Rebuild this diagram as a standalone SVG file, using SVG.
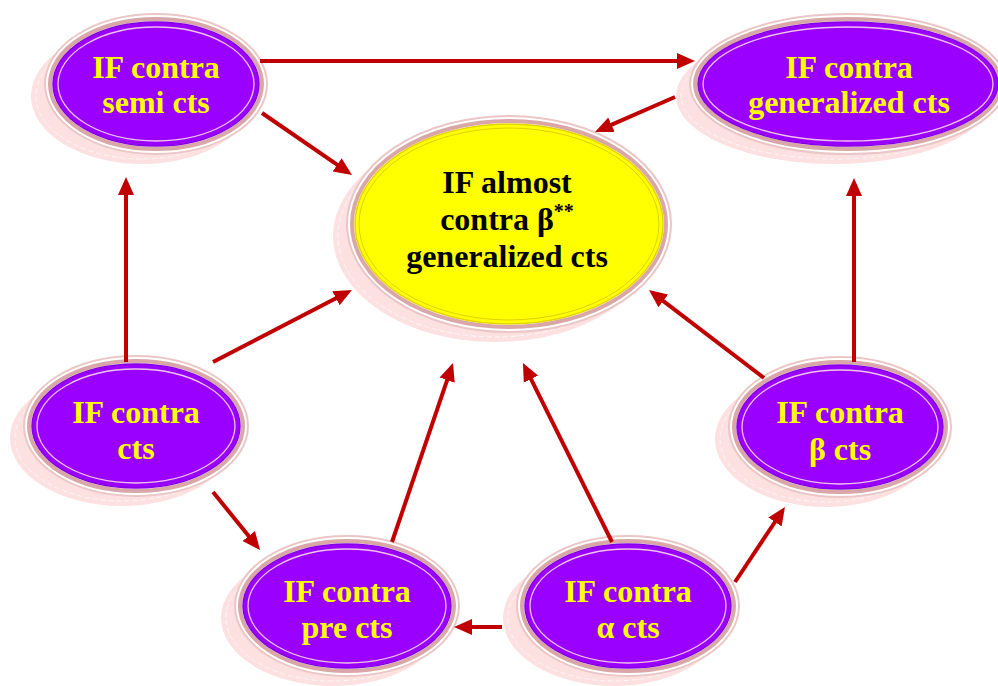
<svg xmlns="http://www.w3.org/2000/svg" width="998" height="686" viewBox="0 0 998 686">
<style>
.shadow{fill:#FDE1E1;stroke:none}
.dash{fill:none;stroke:#FFFFFF;stroke-width:0.8;stroke-dasharray:5 3;opacity:0.8}
.ring1{fill:#FFFFFF;stroke:#EBC6C6;stroke-width:2}
.ring2{fill:none;stroke:#D9A7A7;stroke-width:4}
.body{fill:#9A00FF;stroke:#8500E0;stroke-width:1.5}
.inner{fill:none;stroke:#F0C2EE;stroke-width:1.3}
.cbody{fill:#FFFF00;stroke:#E5D400;stroke-width:1.5}
.cinner{fill:none;stroke:#E0D000;stroke-width:1}
.t{font-family:"Liberation Serif","Times New Roman",serif;font-weight:bold;font-size:32px;text-anchor:middle;fill:#FFFF00}
.tc{fill:#000000}
.conn line{stroke:#C00000;stroke-width:4;marker-end:url(#ah)}
</style>
<defs>
<marker id="ah" markerUnits="userSpaceOnUse" markerWidth="18" markerHeight="18" viewBox="0 0 18 18" refX="6" refY="9" orient="auto">
<path d="M0,1 L18,9 L0,17 z" fill="#C00000"/>
</marker>
</defs>
<rect width="998" height="686" fill="#FFFFFF"/>

<g id="semi">
<ellipse class="shadow" cx="142" cy="96" rx="111" ry="68"/>
<ellipse class="dash" cx="142" cy="96" rx="106" ry="63"/>
<ellipse class="ring1" cx="156" cy="84" rx="111" ry="70"/>
<ellipse class="ring2" cx="156" cy="84" rx="106" ry="65"/>
<ellipse class="body" cx="156" cy="84" rx="103" ry="62"/>
<ellipse class="inner" cx="156" cy="84" rx="98" ry="57"/>
<text class="t" x="156" y="78">IF contra</text>
<text class="t" x="156" y="113">semi cts</text>
</g>

<g id="generalized">
<ellipse class="shadow" cx="834" cy="96" rx="158" ry="68"/>
<ellipse class="dash" cx="834" cy="96" rx="153" ry="63"/>
<ellipse class="ring1" cx="848" cy="84" rx="158" ry="70"/>
<ellipse class="ring2" cx="848" cy="84" rx="153" ry="65"/>
<ellipse class="body" cx="848" cy="84" rx="150" ry="62"/>
<ellipse class="inner" cx="848" cy="84" rx="145" ry="57"/>
<text class="t" x="849" y="78">IF contra</text>
<text class="t" x="849" y="113">generalized cts</text>
</g>

<g id="center">
<ellipse class="shadow" cx="495" cy="236" rx="162" ry="106"/>
<ellipse class="dash" cx="495" cy="236" rx="157" ry="101"/>
<ellipse class="ring1" cx="509" cy="224" rx="162" ry="108"/>
<ellipse class="ring2" cx="509" cy="224" rx="157" ry="103"/>
<ellipse class="cbody" cx="509" cy="224" rx="154" ry="100"/>
<ellipse class="cinner" cx="509" cy="224" rx="150" ry="96"/>
<text class="t tc" x="507" y="193">IF almost</text>
<text class="t tc" x="507" y="230">contra β<tspan font-size="20" dy="-12">**</tspan></text>
<text class="t tc" x="507" y="267">generalized cts</text>
</g>

<g id="cts">
<ellipse class="shadow" cx="122" cy="438" rx="112" ry="68"/>
<ellipse class="dash" cx="122" cy="438" rx="107" ry="63"/>
<ellipse class="ring1" cx="136" cy="426" rx="112" ry="70"/>
<ellipse class="ring2" cx="136" cy="426" rx="107" ry="65"/>
<ellipse class="body" cx="136" cy="426" rx="104" ry="62"/>
<ellipse class="inner" cx="136" cy="426" rx="99" ry="57"/>
<text class="t" x="136" y="423">IF contra</text>
<text class="t" x="136" y="459">cts</text>
</g>

<g id="beta">
<ellipse class="shadow" cx="826" cy="439" rx="111" ry="68"/>
<ellipse class="dash" cx="826" cy="439" rx="106" ry="63"/>
<ellipse class="ring1" cx="840" cy="427" rx="111" ry="70"/>
<ellipse class="ring2" cx="840" cy="427" rx="106" ry="65"/>
<ellipse class="body" cx="840" cy="427" rx="103" ry="62"/>
<ellipse class="inner" cx="840" cy="427" rx="98" ry="57"/>
<text class="t" x="840" y="423">IF contra</text>
<text class="t" x="840" y="460">β cts</text>
</g>

<g id="pre">
<ellipse class="shadow" cx="333" cy="618" rx="112" ry="68"/>
<ellipse class="dash" cx="333" cy="618" rx="107" ry="63"/>
<ellipse class="ring1" cx="347" cy="606" rx="112" ry="70"/>
<ellipse class="ring2" cx="347" cy="606" rx="107" ry="65"/>
<ellipse class="body" cx="347" cy="606" rx="104" ry="62"/>
<ellipse class="inner" cx="347" cy="606" rx="99" ry="57"/>
<text class="t" x="347" y="602">IF contra</text>
<text class="t" x="347" y="638">pre cts</text>
</g>

<g id="alpha">
<ellipse class="shadow" cx="614" cy="618" rx="111" ry="68"/>
<ellipse class="dash" cx="614" cy="618" rx="106" ry="63"/>
<ellipse class="ring1" cx="628" cy="606" rx="111" ry="70"/>
<ellipse class="ring2" cx="628" cy="606" rx="106" ry="65"/>
<ellipse class="body" cx="628" cy="606" rx="103" ry="62"/>
<ellipse class="inner" cx="628" cy="606" rx="98" ry="57"/>
<text class="t" x="628" y="602">IF contra</text>
<text class="t" x="628" y="638">α cts</text>
</g>

<g id="connectors" class="conn">
<line x1="260" y1="61" x2="683" y2="61"/>
<line x1="262" y1="113" x2="342.1" y2="168.2"/>
<line x1="675" y1="97" x2="606" y2="127.2"/>
<line x1="126" y1="362" x2="126" y2="189"/>
<line x1="392" y1="542" x2="449.1" y2="374.4"/>
<line x1="612" y1="542" x2="528.3" y2="373.7"/>
<line x1="213" y1="362" x2="341.3" y2="295.5"/>
<line x1="764" y1="378" x2="658.5" y2="297.3"/>
<line x1="854" y1="362" x2="854" y2="190"/>
<line x1="213" y1="492" x2="252.5" y2="540.7"/>
<line x1="502" y1="627" x2="466" y2="627"/>
<line x1="735" y1="582" x2="778.3" y2="517"/>
</g>
</svg>
